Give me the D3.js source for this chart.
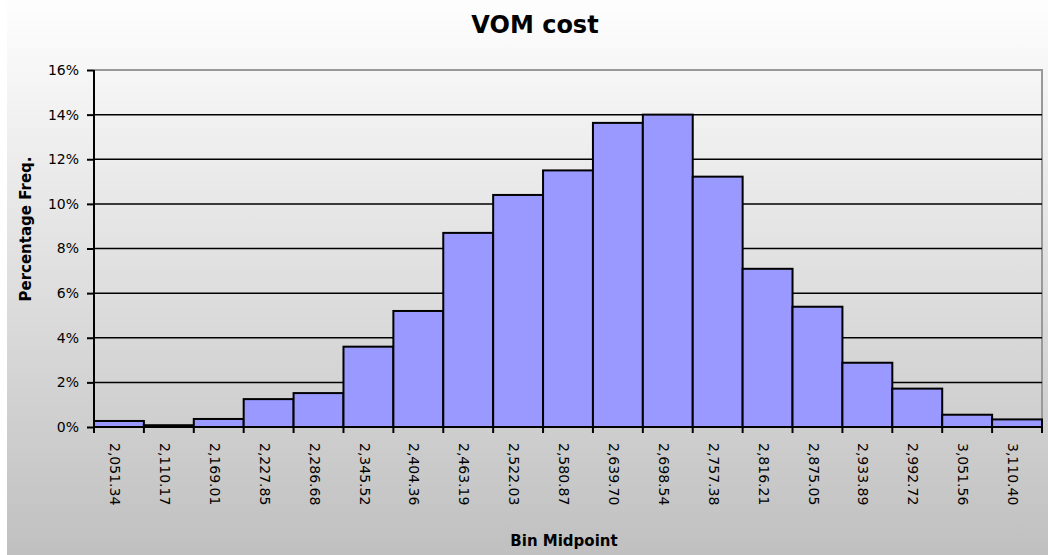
<!DOCTYPE html>
<html><head><meta charset="utf-8">
<script src="https://cdn.jsdelivr.net/npm/d3@7"></script>
<style>html,body{margin:0;padding:0;background:#fff;}svg{display:block;}</style>
</head><body>
<script>
const categories = ["2,051.34","2,110.17","2,169.01","2,227.85","2,286.68","2,345.52","2,404.36","2,463.19","2,522.03","2,580.87","2,639.70","2,698.54","2,757.38","2,816.21","2,875.05","2,933.89","2,992.72","3,051.56","3,110.40"];
const values = [0.27,0.08,0.36,1.25,1.52,3.6,5.2,8.7,10.4,11.5,13.63,14.0,11.22,7.09,5.39,2.88,1.72,0.55,0.34];
const yTicks = [0,2,4,6,8,10,12,14,16];
const title = "VOM cost";
const xTitle = "Bin Midpoint";
const yTitle = "Percentage Freq.";

const W = 1048, H = 555;
const m = {left:94, right:1042, top:70, bottom:427};
const svg = d3.select("body").append("svg").attr("width",W).attr("height",H);
const defs = svg.append("defs");
const g1 = defs.append("linearGradient").attr("id","bg").attr("x1",0).attr("y1",0).attr("x2",0).attr("y2",1);
g1.append("stop").attr("offset","0%").attr("stop-color","#fefefe");
g1.append("stop").attr("offset","100%").attr("stop-color","#c0c0c0");

svg.append("rect").attr("x",7).attr("y",0).attr("width",W-7).attr("height",H).attr("fill","url(#bg)");

const x = d3.scaleBand().domain(categories).range([m.left,m.right]).padding(0);
const y = d3.scaleLinear().domain([0,16]).range([m.bottom,m.top]);

// plot border (top/right gray)
svg.append("path").attr("d",`M${m.left},${m.top}H${m.right}V${m.bottom}`).attr("fill","none").attr("stroke","#999").attr("stroke-width",2);

// gridlines
svg.append("g").selectAll("line").data(yTicks.filter(t=>t>0 && t<16)).join("line")
  .attr("x1",m.left).attr("x2",m.right).attr("y1",d=>y(d)).attr("y2",d=>y(d))
  .attr("stroke","#000").attr("stroke-width",1.5);

// bars
svg.append("g").selectAll("rect").data(values).join("rect")
  .attr("x",(d,i)=>x(categories[i])).attr("width",x.bandwidth())
  .attr("y",d=>y(d)).attr("height",d=>y(0)-y(d))
  .attr("fill","#9999ff").attr("stroke","#000").attr("stroke-width",2);

// y axis
const ya = svg.append("g").attr("transform",`translate(${m.left},0)`)
  .call(d3.axisLeft(y).tickValues(yTicks).tickFormat(d=>d+"%").tickSize(7).tickPadding(8));
ya.select(".domain").attr("stroke","#000").attr("stroke-width",2).attr("d",`M0,${m.top}V${m.bottom}`);
ya.selectAll(".tick line").attr("stroke","#000").attr("stroke-width",2);
ya.selectAll("text").attr("font-family","DejaVu Sans").attr("font-size",14).attr("fill","#000");

// x axis
const xa = svg.append("g").attr("transform",`translate(0,${m.bottom})`)
  .call(d3.axisBottom(x).tickSize(0).tickFormat(""));
xa.select(".domain").remove();
xa.selectAll(".tick").remove();
const bounds = categories.map(c=>x(c)).concat([m.right]);
svg.append("line").attr("x1",m.left).attr("x2",m.right).attr("y1",m.bottom).attr("y2",m.bottom).attr("stroke","#000").attr("stroke-width",2);
svg.append("g").selectAll("line").data(bounds).join("line")
  .attr("x1",d=>d).attr("x2",d=>d).attr("y1",m.bottom).attr("y2",m.bottom+6)
  .attr("stroke","#000").attr("stroke-width",2);
svg.append("g").selectAll("text").data(categories).join("text")
  .attr("transform",d=>`translate(${x(d)+x.bandwidth()/2-4},${m.bottom+16}) rotate(90)`)
  .attr("dy","0.35em").attr("text-anchor","start")
  .attr("font-family","DejaVu Sans").attr("font-size",14).attr("fill","#000")
  .text(d=>d);

// titles
svg.append("text").attr("x",535).attr("y",33).attr("text-anchor","middle")
  .attr("font-family","DejaVu Sans").attr("font-weight","bold").attr("font-size",24).text(title);
svg.append("text").attr("x",(m.left+m.right)/2-4).attr("y",546).attr("text-anchor","middle")
  .attr("font-family","DejaVu Sans").attr("font-weight","bold").attr("font-size",15).text(xTitle);
svg.append("text").attr("transform","translate(31,229) rotate(-90)").attr("text-anchor","middle")
  .attr("font-family","DejaVu Sans").attr("font-weight","bold").attr("font-size",15).text(yTitle);
</script>
</body></html>
